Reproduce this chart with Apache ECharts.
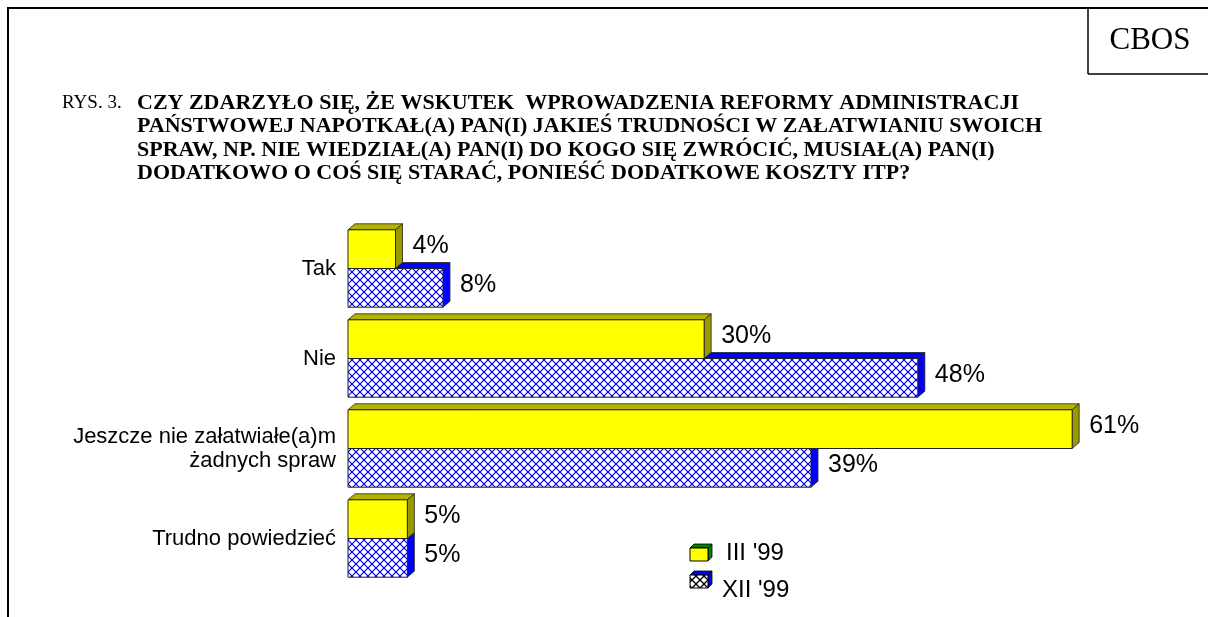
<!DOCTYPE html>
<html>
<head>
<meta charset="utf-8">
<script src="https://cdn.jsdelivr.net/npm/echarts@6/dist/echarts.min.js"></script>
<style>html,body{margin:0;padding:0;background:#fff;}#c{width:1208px;height:617px;}</style>
</head>
<body>
<div id="c"></div>
<script>
// ---- data ----
var categories = ['Tak', 'Nie', 'Jeszcze nie załatwiałe(a)m\nżadnych spraw', 'Trudno powiedzieć'];
var seriesNames = ["III '99", "XII '99"];
var valuesIII = [4, 30, 61, 5];
var valuesXII = [8, 48, 39, 5];
var titleLines = [
  'CZY ZDARZYŁO SIĘ, ŻE WSKUTEK  WPROWADZENIA REFORMY ADMINISTRACJI',
  'PAŃSTWOWEJ NAPOTKAŁ(A) PAN(I) JAKIEŚ TRUDNOŚCI W ZAŁATWIANIU SWOICH',
  'SPRAW, NP. NIE WIEDZIAŁ(A) PAN(I) DO KOGO SIĘ ZWRÓCIĆ, MUSIAŁ(A) PAN(I)',
  'DODATKOWO O COŚ SIĘ STARAĆ, PONIEŚĆ DODATKOWE KOSZTY ITP?'
];

function hatch(color, p, lw) {
  var c = document.createElement('canvas');
  c.width = p; c.height = p;
  var g = c.getContext('2d');
  g.fillStyle = '#fff'; g.fillRect(0, 0, p, p);
  g.strokeStyle = color; g.lineWidth = lw;
  for (var k = -p; k <= p; k += p) {
    g.beginPath(); g.moveTo(k, 0); g.lineTo(k + p, p); g.stroke();
    g.beginPath(); g.moveTo(k + p, 0); g.lineTo(k, p); g.stroke();
  }
  return c;
}
var blueHatch = hatch('#0000ff', 8, 1.2);
var blackHatch = hatch('#000000', 8, 1.3);

var DX = 7, DY = 6;
var styles = [
  { front: '#ffff00', top: '#b3b300', side: '#999900' },
  { front: { image: blueHatch, repeat: 'repeat' }, top: '#0000ff', side: '#0000ff' }
];

function makeRender(si) {
  return function (params, api) {
    var val = api.value(0), cat = api.value(1);
    var p0 = api.coord([0, cat]), p1 = api.coord([val, cat]);
    var band = api.size([0, 1])[1];
    var h = band * 0.43;
    var cy = p0[1];
    var top = si === 0 ? cy - h : cy;
    var bot = top + h;
    var x0 = p0[0], x1 = p1[0];
    var st = styles[si];
    var edge = { stroke: '#222', lineWidth: 0.8 };
    return {
      type: 'group',
      children: [
        { type: 'polygon', shape: { points: [[x0, top], [x0 + DX, top - DY], [x1 + DX, top - DY], [x1, top]] },
          style: Object.assign({ fill: st.top }, edge) },
        { type: 'polygon', shape: { points: [[x1, top], [x1 + DX, top - DY], [x1 + DX, bot - DY], [x1, bot]] },
          style: Object.assign({ fill: st.side }, edge) },
        { type: 'rect', shape: { x: x0, y: top, width: x1 - x0, height: h },
          style: { fill: st.front, stroke: '#222', lineWidth: 1 } },
        { type: 'text', style: { text: val + '%', x: x1 + 17, y: top + h / 2 - 3, verticalAlign: 'middle',
          font: '25px "Liberation Sans", Arial, sans-serif', fill: '#000' } }
      ]
    };
  };
}

var graphics = [
  { type: 'line', shape: { x1: 8, y1: 8, x2: 1208, y2: 8 }, style: { stroke: '#000', lineWidth: 2 } },
  { type: 'line', shape: { x1: 8, y1: 7, x2: 8, y2: 617 }, style: { stroke: '#000', lineWidth: 2 } },
  { type: 'line', shape: { x1: 1088, y1: 8, x2: 1088, y2: 74 }, style: { stroke: '#000', lineWidth: 1.5 } },
  { type: 'line', shape: { x1: 1088, y1: 74, x2: 1208, y2: 74 }, style: { stroke: '#000', lineWidth: 1.5 } },
  { type: 'text', style: { text: 'CBOS', x: 1150, y: 41, align: 'center', verticalAlign: 'middle',
    font: '31px "Liberation Serif", "Times New Roman", serif', fill: '#000' } },
  { type: 'text', style: { text: 'RYS. 3.', x: 62, y: 103, verticalAlign: 'middle',
    font: '19px "Liberation Serif", "Times New Roman", serif', fill: '#000' } }
];
titleLines.forEach(function (t, i) {
  graphics.push({ type: 'text', style: { text: t, x: 137, y: 103 + i * 23.5, verticalAlign: 'middle',
    font: 'bold 22px "Liberation Serif", "Times New Roman", serif', fill: '#000' } });
});
// legend
function legendIcon(x, y, front, topc) {
  var w = 18, h = 13, d = 4;
  return [
    { type: 'polygon', shape: { points: [[x, y], [x + d, y - d], [x + w + d, y - d], [x + w, y]] }, style: { fill: topc, stroke: '#000', lineWidth: 0.8 } },
    { type: 'polygon', shape: { points: [[x + w, y], [x + w + d, y - d], [x + w + d, y + h - d], [x + w, y + h]] }, style: { fill: topc, stroke: '#000', lineWidth: 0.8 } },
    { type: 'rect', shape: { x: x, y: y, width: w, height: h }, style: { fill: front, stroke: '#000', lineWidth: 1 } }
  ];
}
graphics = graphics.concat(legendIcon(690, 548, '#ffff00', '#008000'));
graphics = graphics.concat(legendIcon(690, 575, { image: blackHatch, repeat: 'repeat' }, '#0000ff'));
graphics.push({ type: 'text', style: { text: seriesNames[0], x: 726, y: 553, verticalAlign: 'middle', font: '24px "Liberation Sans", Arial, sans-serif', fill: '#000' } });
graphics.push({ type: 'text', style: { text: seriesNames[1], x: 722, y: 590, verticalAlign: 'middle', font: '24px "Liberation Sans", Arial, sans-serif', fill: '#000' } });

var chart = echarts.init(document.getElementById('c'), null, { renderer: 'canvas' });
chart.setOption({
  backgroundColor: '#fff',
  animation: false,
  grid: { left: 348, top: 223.5, height: 360, right: 29 },
  xAxis: { type: 'value', min: 0, max: 70, show: false },
  yAxis: {
    type: 'category', data: categories, inverse: true,
    axisLine: { show: false }, axisTick: { show: false }, splitLine: { show: false },
    axisLabel: { margin: 12, color: '#000', fontSize: 22, lineHeight: 24, align: 'right',
      fontFamily: '"Liberation Sans", Arial, sans-serif' }
  },
  graphic: graphics,
  series: [
    { name: seriesNames[1], type: 'custom', z: 2, renderItem: makeRender(1), encode: { x: 0, y: 1 },
      data: valuesXII.map(function (v, i) { return [v, i]; }) },
    { name: seriesNames[0], type: 'custom', z: 3, renderItem: makeRender(0), encode: { x: 0, y: 1 },
      data: valuesIII.map(function (v, i) { return [v, i]; }) }
  ]
});
</script>
</body>
</html>
